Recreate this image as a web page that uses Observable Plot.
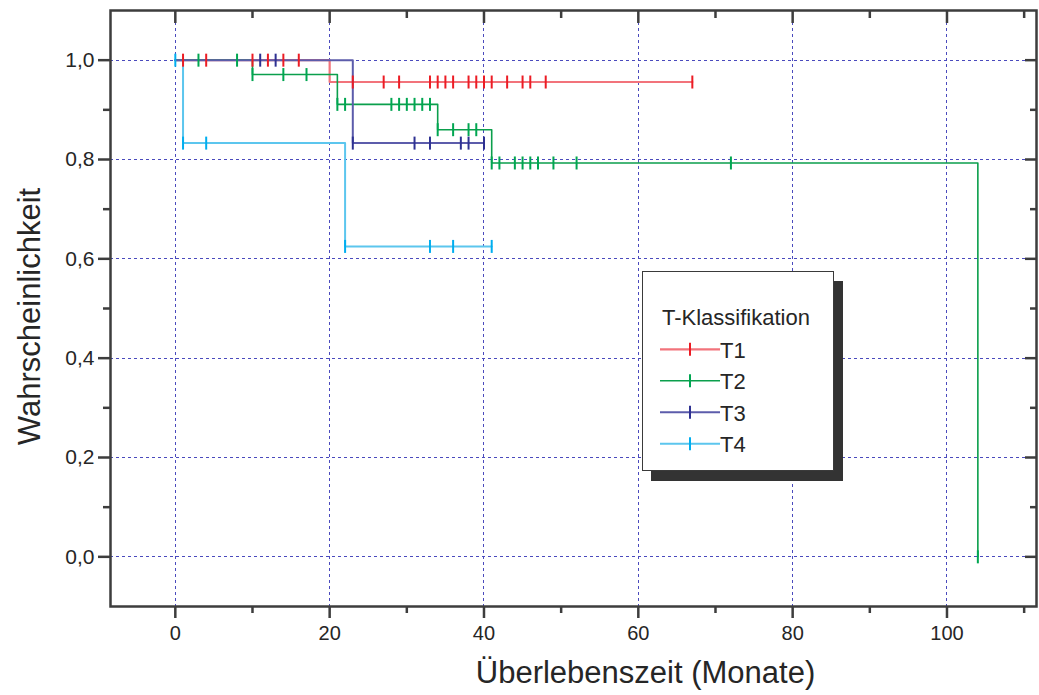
<!DOCTYPE html>
<html><head><meta charset="utf-8">
<script src="https://cdn.jsdelivr.net/npm/d3@7"></script>
<script src="https://cdn.jsdelivr.net/npm/@observablehq/plot@0.6"></script>
<style>
body{margin:0;background:#fff;font-family:"Liberation Sans",Arial,sans-serif;}
#wrap{position:relative;width:1039px;height:695px;}
#legendBox{position:absolute;left:642px;top:271px;width:190px;height:198px;border:1.5px solid #3a3a3a;background:#fff;box-shadow:9px 10px 0 #333;}
#legendSvg{position:absolute;left:642px;top:271px;}
</style></head><body><div id="wrap"></div>
<script>
// ---- data ----
const seriesNames = ["T1", "T2", "T3", "T4"];
const legendTitle = "T-Klassifikation";
const xTitle = "Überlebenszeit (Monate)";
const yTitle = "Wahrscheinlichkeit";

// step curves (event times and survival after each event)
const t1Time = [0, 20, 67];
const t1Surv = [1, 0.956, 0.956];
const t2Time = [0, 10, 21, 34, 41, 104];
const t2Surv = [1, 0.971, 0.911, 0.860, 0.793, 0];
const t3Time = [0, 23, 40];
const t3Surv = [1, 0.833, 0.833];
const t4Time = [0, 1, 22, 41];
const t4Surv = [1, 0.833, 0.625, 0.625];

// censoring times
const t1Censor = [1, 4, 10, 12, 14, 16, 23, 27, 29, 33, 34, 35, 36, 38, 39, 40, 41, 43, 45, 46, 48, 67];
const t2Censor = [3, 8, 10, 14, 17, 21, 22, 28, 29, 30, 31, 32, 33, 34, 36, 38, 39, 41, 42, 44, 45, 46, 47, 49, 52, 72, 104];
const t3Censor = [11, 13, 23, 31, 33, 37, 38, 40];
const t4Censor = [0, 1, 4, 22, 33, 36, 41];

const xMajor = [0, 20, 40, 60, 80, 100];
const xMinor = [10, 30, 50, 70, 90, 110];
const yMajor = [0, 0.2, 0.4, 0.6, 0.8, 1.0];
const yMinor = [0.1, 0.3, 0.5, 0.7, 0.9];

const lineColors = {T1: "#f2737b", T2: "#0b9f4c", T3: "#5c5cab", T4: "#5cc6ee"};
const tickColors = {T1: "#ec1c24", T2: "#00a651", T3: "#2e3192", T4: "#00aeef"};
const lineWidths = {T1: 2.2, T2: 1.6, T3: 2, T4: 2};

// ---- build tables ----
const curves = {T1: [t1Time, t1Surv], T2: [t2Time, t2Surv], T3: [t3Time, t3Surv], T4: [t4Time, t4Surv]};
const censors = {T1: t1Censor, T2: t2Censor, T3: t3Censor, T4: t4Censor};
function curveRows(s) { const [t, v] = curves[s]; return t.map((d, i) => ({t: d, s: v[i], series: s})); }
function survAt(s, time) { const [t, v] = curves[s]; const i = d3.bisectRight(t, time) - 1; return v[Math.max(0, i)]; }
function censorRows(s) { return censors[s].map(t => ({t, s: survAt(s, t), series: s})); }

const vtick = {draw(ctx, size) { const h = Math.sqrt(size / Math.PI); ctx.moveTo(0, -h); ctx.lineTo(0, h); }};

const axisStyle = {stroke: "#3d3d3d", strokeWidth: 2.5, label: null};
const gridStyle = {stroke: "#4a4abd", strokeOpacity: 1, strokeWidth: 1, strokeDasharray: "3,3", shapeRendering: "crispEdges"};
const drawOrder = ["T4", "T1", "T2", "T3"];

const chart = Plot.plot({
  width: 1039, height: 695,
  marginLeft: 110, marginRight: 3, marginTop: 10, marginBottom: 89,
  style: {fontFamily: "'Liberation Sans', Arial, sans-serif", color: "#262626", background: "#fff", overflow: "visible"},
  x: {domain: [-8.4, 111.6]},
  y: {domain: [-0.1, 1.1]},
  marks: [
    Plot.gridX({...gridStyle, ticks: xMajor}),
    Plot.gridY({...gridStyle, ticks: yMajor}),
    ...drawOrder.map(s => Plot.line(curveRows(s), {x: "t", y: "s", curve: "step-after", stroke: lineColors[s], strokeWidth: lineWidths[s]})),
    ...drawOrder.map(s => Plot.dot(censorRows(s), {x: "t", y: "s", symbol: vtick, r: 6.5, fill: "none", stroke: tickColors[s], strokeWidth: 2})),
    Plot.frame({stroke: "#3d3d3d", strokeWidth: 2.5}),
    Plot.axisX({...axisStyle, ticks: xMajor, tickSize: 12, tickPadding: 7, fontSize: 20, tickFormat: d => String(d)}),
    Plot.axisX({...axisStyle, ticks: xMinor, tickSize: 7, tickFormat: () => ""}),
    Plot.axisX({...axisStyle, anchor: "top", ticks: xMajor, tickSize: 12, dy: 12, tickFormat: () => ""}),
    Plot.axisX({...axisStyle, anchor: "top", ticks: xMinor, tickSize: 7, dy: 7, tickFormat: () => ""}),
    Plot.axisY({...axisStyle, ticks: yMajor, tickSize: 12, tickPadding: 4, fontSize: 21, tickFormat: d => d.toFixed(1).replace(".", ",")}),
    Plot.axisY({...axisStyle, ticks: yMinor, tickSize: 7, tickFormat: () => ""}),
    Plot.axisY({...axisStyle, anchor: "right", ticks: yMajor, tickSize: 12, dx: -12, tickFormat: () => ""}),
    Plot.axisY({...axisStyle, anchor: "right", ticks: yMinor, tickSize: 7, dx: -7, tickFormat: () => ""}),
    Plot.text([xTitle], {frameAnchor: "bottom", textAnchor: "middle", lineAnchor: "middle", dx: 72, dy: 67, fontSize: 31, fill: "#262626"}),
    Plot.text([yTitle], {frameAnchor: "left", textAnchor: "middle", lineAnchor: "middle", dx: -80, dy: 8, rotate: -90, fontSize: 31, fill: "#262626"})
  ]
});

const wrap = document.getElementById("wrap");
wrap.appendChild(chart);

// ---- legend ----
const box = document.createElement("div"); box.id = "legendBox"; wrap.appendChild(box);
const lg = d3.select(wrap).append("svg").attr("id", "legendSvg").attr("width", 194).attr("height", 202)
  .style("font-family", "'Liberation Sans', Arial, sans-serif");
lg.append("text").attr("x", 20).attr("y", 54).attr("font-size", 22).attr("fill", "#262626").text(legendTitle);
seriesNames.forEach((s, i) => {
  const cy = 78.3 + i * 31.5;
  lg.append("line").attr("x1", 18).attr("x2", 78).attr("y1", cy).attr("y2", cy).attr("stroke", lineColors[s]).attr("stroke-width", lineWidths[s]);
  lg.append("line").attr("x1", 48).attr("x2", 48).attr("y1", cy - 6.5).attr("y2", cy + 6.5).attr("stroke", tickColors[s]).attr("stroke-width", 2);
  lg.append("text").attr("x", 78).attr("y", cy + 8.3).attr("font-size", 22).attr("fill", "#262626").text(s);
});
</script></body></html>
